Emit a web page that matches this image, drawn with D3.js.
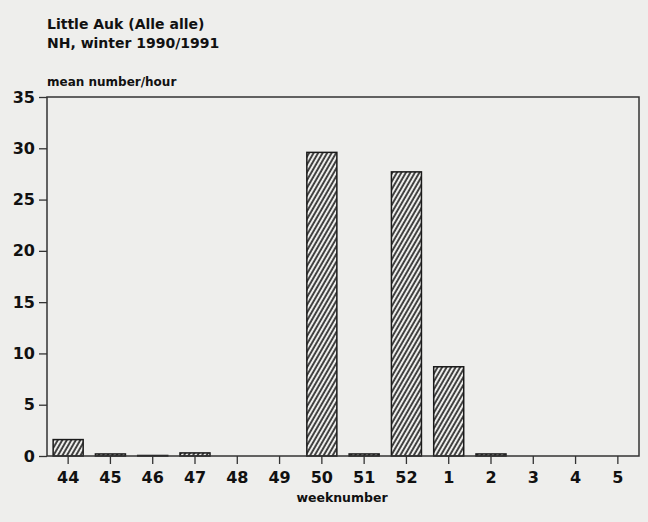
<!DOCTYPE html>
<html>
<head>
  <meta charset="utf-8">
  <script src="https://d3js.org/d3.v7.min.js"></script>
  <style>
    body { margin: 0; background: #eeeeec; }
    svg { display: block; font-family: "DejaVu Sans", sans-serif; font-weight: bold; }
  </style>
</head>
<body>
  <svg width="648" height="522"></svg>
  <script>
    // weeknumbers (winter 1990/1991) and mean number/hour
    const weeks = ["44", "45", "46", "47", "48", "49", "50", "51", "52", "1", "2", "3", "4", "5"];
    const values = [1.6, 0.2, 0.05, 0.3, 0, 0, 29.6, 0.2, 27.7, 8.7, 0.2, 0, 0, 0];
    const yTicks = [0, 5, 10, 15, 20, 25, 30, 35];

    const svg = d3.select("svg");
    const plotL = 47, plotR = 639, plotT = 97, plotB = 456;

    const x = d3.scaleBand().domain(weeks).range([plotL, plotR]).paddingInner(0.29).paddingOuter(0.145);
    const y = d3.scaleLinear().domain([0, 35]).range([plotB, plotT]);

    // hatch pattern, steep "/" lines
    const defs = svg.append("defs");
    defs.append("pattern")
        .attr("id", "hatch")
        .attr("patternUnits", "userSpaceOnUse")
        .attr("width", 3.9)
        .attr("height", 10)
        .attr("patternTransform", "rotate(30)")
      .append("line")
        .attr("x1", 1).attr("y1", 0)
        .attr("x2", 1).attr("y2", 10)
        .attr("stroke", "#1a1a1a")
        .attr("stroke-width", 1.6);

    // bars
    svg.append("g")
      .selectAll("rect")
      .data(weeks)
      .join("rect")
        .attr("x", d => x(d))
        .attr("width", x.bandwidth())
        .attr("y", (d, i) => y(values[i]))
        .attr("height", (d, i) => plotB - y(values[i]))
        .attr("fill", "url(#hatch)")
        .attr("stroke", (d, i) => values[i] > 0 ? "#1a1a1a" : "none")
        .attr("stroke-width", 1.5);

    // frame
    svg.append("rect")
      .attr("x", plotL).attr("y", plotT)
      .attr("width", plotR - plotL).attr("height", plotB - plotT)
      .attr("fill", "none").attr("stroke", "#333").attr("stroke-width", 1.5);

    // y axis
    const yAxis = svg.append("g")
      .attr("transform", `translate(${plotL},0)`)
      .call(d3.axisLeft(y).tickValues(yTicks).tickSize(8).tickPadding(4));
    yAxis.select(".domain").remove();
    yAxis.selectAll("line").attr("stroke", "#333").attr("stroke-width", 1.3);
    yAxis.selectAll("text").attr("font-size", 16).attr("font-family", "DejaVu Sans, sans-serif").attr("font-weight", "bold").attr("fill", "#111");

    // x axis
    const xAxis = svg.append("g")
      .attr("transform", `translate(0,${plotB})`)
      .call(d3.axisBottom(x).tickSize(8).tickPadding(8));
    xAxis.select(".domain").remove();
    xAxis.selectAll("line").attr("stroke", "#333").attr("stroke-width", 1.3);
    xAxis.selectAll("text").attr("font-size", 16).attr("font-family", "DejaVu Sans, sans-serif").attr("font-weight", "bold").attr("fill", "#111");

    // texts
    svg.append("text").attr("x", 47).attr("y", 29).attr("font-size", 14).attr("fill", "#111").text("Little Auk (Alle alle)");
    svg.append("text").attr("x", 47).attr("y", 48).attr("font-size", 14).attr("fill", "#111").text("NH, winter 1990/1991");
    svg.append("text").attr("x", 47).attr("y", 86).attr("font-size", 12).attr("fill", "#111").text("mean number/hour");
    svg.append("text").attr("x", 342).attr("y", 502).attr("text-anchor", "middle").attr("font-size", 12.5).attr("fill", "#111").text("weeknumber");
  </script>
</body>
</html>
